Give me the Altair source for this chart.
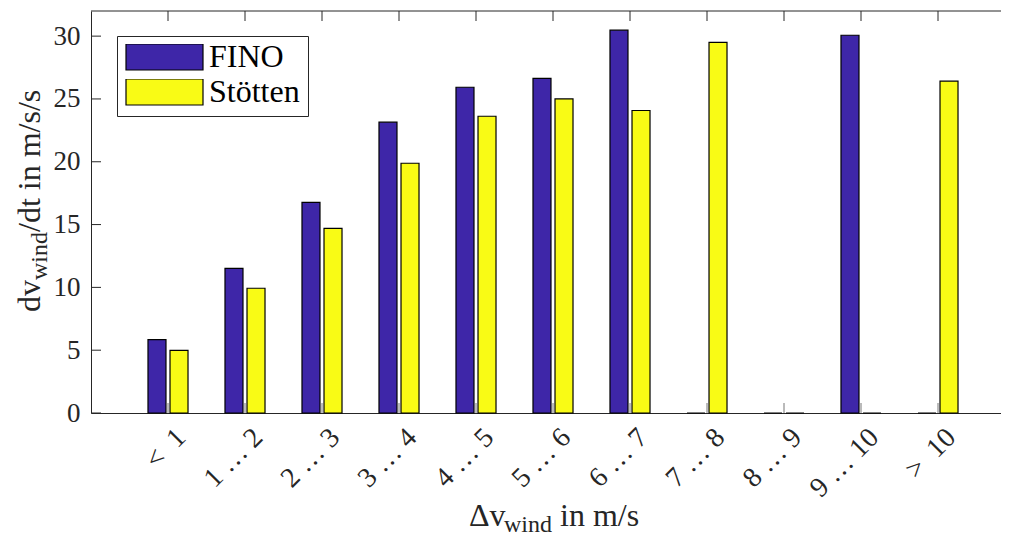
import json
import altair as alt
import pandas as pd

# ---------------- data ----------------
categories = ["<\u20021", "1 … 2", "2 … 3", "3 … 4", "4 … 5", "5 … 6",
              "6 … 7", "7 … 8", "8 … 9", "9 … 10", ">\u200210"]
positions = [1, 2, 3, 4, 5, 6, 7, 8, 9, 10, 11]
fino = [5.84, 11.52, 16.77, 23.15, 25.93, 26.64, 30.47, 0, 0, 30.07, 0]
stoetten = [4.99, 9.93, 14.70, 19.88, 23.62, 25.00, 24.08, 29.51, 0, 0, 26.41]
series_names = ["FINO", "Stötten"]
series_colors = ["#3E26A8", "#F9FB15"]
y_ticks = [0, 5, 10, 15, 20, 25, 30]
y_max = 32

# ---------------- layout ----------------
W, H = 910, 402
STEP = 77.0
x_max = W / STEP
FONT = "Liberation Serif"
AX = "#262626"

rows = []
for name, vals in zip(series_names, [fino, stoetten]):
    for p, c, v in zip(positions, categories, vals):
        rows.append({"pos": p, "category": c, "series": name, "value": v})
df = pd.DataFrame(rows)

x_scale = alt.Scale(domain=[0, x_max], nice=False, zero=False, padding=0)
y_scale = alt.Scale(domain=[0, y_max], nice=False, padding=0)

label_expr = "%s[datum.value - 1]" % json.dumps(categories, ensure_ascii=False)

x_axis = alt.Axis(
    values=positions, labelExpr=label_expr, ticks=False, tickSize=0,
    labelAngle=315, labelAlign="right", labelBaseline="middle",
    labelPadding=20, labelOffset=13, labelFont=FONT, labelFontSize=28,
    labelColor=AX, domainColor=AX, domainWidth=1, grid=False, title=None,
    labelOverlap=False, labelFlush=False, labelBound=False)
y_axis = alt.Axis(
    values=y_ticks, ticks=False, tickSize=0, labelPadding=11,
    labelFont=FONT, labelFontSize=27, labelColor=AX, domainColor=AX,
    domainWidth=1, grid=False, title=None)

bars = alt.Chart(df).transform_calculate(
    xc="datum.pos + (datum.series == 'FINO' ? -0.143 : 0.143)"
).mark_bar(orient="vertical", size=18, stroke="black", strokeWidth=1.2).encode(
    x=alt.X("xc:Q", scale=x_scale, axis=x_axis),
    y=alt.Y("value:Q", scale=y_scale, axis=y_axis),
    color=alt.Color("series:N", scale=alt.Scale(domain=series_names, range=series_colors),
                    legend=alt.Legend(
                        title=None, orient="none", legendX=26, legendY=25, direction="vertical",
                        symbolType="M-1,-0.3377H1V0.3377H-1Z", symbolSize=5929,
                        symbolStrokeColor="black", symbolStrokeWidth=1.2, symbolOpacity=1,
                        labelFont=FONT, labelFontSize=32, labelColor="black", labelOffset=5,
                        padding=8, rowPadding=3, strokeColor=AX, fillColor="white",
                        clipHeight=26, cornerRadius=0)),
)

ytick_df = pd.DataFrame({"v": y_ticks})
xtick_df = pd.DataFrame({"p": positions})

left_ticks = alt.Chart(ytick_df).mark_rule(color=AX, strokeWidth=1).encode(
    y=alt.Y("v:Q", scale=y_scale, axis=y_axis), x=alt.value(0), x2=alt.value(10))
top_ticks = alt.Chart(xtick_df).mark_rule(color=AX, strokeWidth=1).encode(
    x=alt.X("p:Q", scale=x_scale, axis=x_axis), y=alt.value(0), y2=alt.value(10))
bottom_ticks = alt.Chart(xtick_df).mark_rule(color="#777777", strokeWidth=1).encode(
    x=alt.X("p:Q", scale=x_scale, axis=x_axis), y=alt.value(H - 10), y2=alt.value(H))
top_line = alt.Chart(pd.DataFrame({"a": [0]})).mark_rule(color=AX, strokeWidth=1).encode(
    x=alt.value(0), x2=alt.value(W), y=alt.value(0))


def txt(s, x, y, size, angle=0):
    return alt.Chart(pd.DataFrame({"t": [s]})).mark_text(
        font=FONT, fontSize=size, align="left", baseline="alphabetic",
        angle=angle, color=AX).encode(text="t:N", x=alt.value(x), y=alt.value(y))


# x title: Δv_wind in m/s
xt_x0, xt_y = 378, 515
x_title = [
    txt("Δv", xt_x0, xt_y, 32),
    txt("wind", xt_x0 + 35, xt_y + 6, 24),
    txt("in m/s", xt_x0 + 35 + 48 + 8, xt_y, 32),
]
# y title: dv_wind/dt in m/s/s (rotated)
yt_x, yt_y0 = -51, 301
y_title = [
    txt("dv", yt_x, yt_y0, 32, 270),
    txt("wind", yt_x + 7, yt_y0 - 32, 24, 270),
    txt("/dt in m/s/s", yt_x, yt_y0 - 32 - 48, 32, 270),
]

chart = alt.layer(
    bottom_ticks, bars, left_ticks, top_ticks, top_line, *x_title, *y_title
).properties(
    width=W, height=H,
    autosize=alt.AutoSizeParams(type="none"),
    padding={"left": 83, "top": 3, "right": 0, "bottom": 126},
    background="white",
).configure_view(stroke=None)

chart.save("out.html", embed_options={"renderer": "svg", "actions": False})
